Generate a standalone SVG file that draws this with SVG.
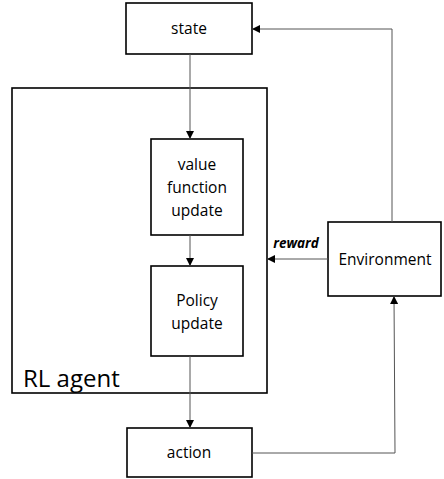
<svg xmlns="http://www.w3.org/2000/svg" width="444" height="479" viewBox="0 0 444 479">
<style>
.box{fill:#fff;stroke:#000;stroke-width:1.6}
.t{font-family:"Open Sans","Liberation Sans",sans-serif;font-size:15.5px;fill:#000;text-anchor:middle}
.ln{fill:none;stroke:#555;stroke-width:1}
</style>
<defs>
<marker id="ah" viewBox="0 0 10 10" refX="10" refY="5" markerWidth="8" markerHeight="8" markerUnits="userSpaceOnUse" orient="auto"><path d="M0,0L10,5L0,10z" fill="#000"/></marker>
</defs>
<rect width="444" height="479" fill="#fff"/>
<g id="agent"><rect class="box" x="12" y="88" width="255" height="305"/><text x="23" y="387" style="font-family:'Open Sans','Liberation Sans',sans-serif;font-size:24px">RL agent</text></g>
<g id="state"><rect class="box" x="126" y="3" width="126" height="51"/><text class="t" x="189" y="34">state</text></g>
<g id="value"><rect class="box" x="151" y="139" width="92" height="96"/><text class="t" x="197" y="170">value</text><text class="t" x="197" y="193">function</text><text class="t" x="197" y="216">update</text></g>
<g id="policy"><rect class="box" x="151" y="266" width="92" height="90"/><text class="t" x="197" y="306">Policy</text><text class="t" x="197" y="329">update</text></g>
<g id="action"><rect class="box" x="127" y="428" width="125" height="49"/><text class="t" x="189" y="458">action</text></g>
<g id="env"><rect class="box" x="328" y="222" width="113" height="74"/><text class="t" x="385" y="265">Environment</text></g>
<g id="connectors">
<line class="ln" x1="190" y1="54" x2="190" y2="139" marker-end="url(#ah)"/>
<line class="ln" x1="190" y1="235" x2="190" y2="266" marker-end="url(#ah)"/>
<line class="ln" x1="190" y1="356" x2="190" y2="428" marker-end="url(#ah)"/>
<polyline class="ln" points="392,222 392,29 252,29" marker-end="url(#ah)"/>
<polyline class="ln" points="252,453 395,453 394,296" marker-end="url(#ah)"/>
<line class="ln" x1="328" y1="259" x2="267" y2="259" marker-end="url(#ah)"/>
<text x="296" y="248" style="font-family:'Open Sans','Liberation Sans',sans-serif;font-size:13.5px;font-weight:bold;font-style:italic;text-anchor:middle">reward</text>
</g>
</svg>
